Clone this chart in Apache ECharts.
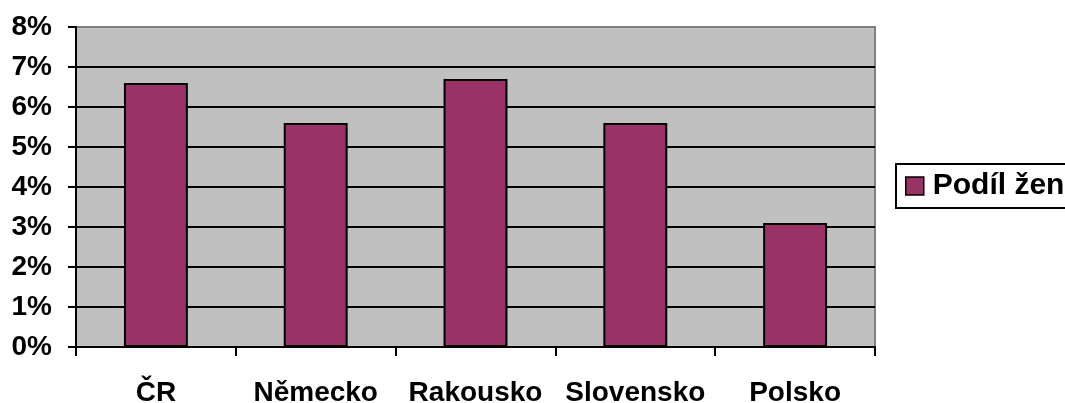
<!DOCTYPE html>
<html>
<head>
<meta charset="utf-8">
<title>Podíl žen</title>
<script src="https://cdn.jsdelivr.net/npm/echarts@6/dist/echarts.min.js"></script>
<style>
html, body { margin: 0; padding: 0; background: #fff; }
#barChart { width: 1065px; height: 403px; }
</style>
</head>
<body>
<div id="barChart"></div>
<script>
//země
var categories = ['ČR', 'Německo', 'Rakousko', 'Slovensko', 'Polsko'];
//podíl žen v %
var podilZen = [6.6, 5.6, 6.7, 5.6, 3.1];
var seriesName = 'Podíl žen';
var yMin = 0;
var yMax = 8;
var yStep = 1;

var fontName = '"Liberation Sans", Arial, sans-serif';

// mřížka - poslední čára (8%) je šedá jako okraj
var splitColors = [];
for (var i = yMin; i <= yMax; i += yStep) {
	splitColors.push(i == yMax ? '#808080' : '#000');
}

var myChart = echarts.init(document.getElementById('barChart'));
var option = {
	backgroundColor: '#fff',
	animation: false,
	textStyle: { fontFamily: fontName },
	grid: {
		left: 76,
		right: 190,
		top: 27,
		bottom: 56,
		outerBoundsMode: 'none',
		show: true,
		backgroundColor: '#c0c0c0',
		borderColor: '#808080',
		borderWidth: 2
	},
	legend: {
		data: [seriesName],
		left: 896,
		top: 164,
		orient: 'vertical',
		backgroundColor: '#fff',
		borderColor: '#000',
		borderWidth: 2,
		padding: [7, 14, 7, 9],
		itemWidth: 18,
		itemHeight: 18,
		itemGap: 0,
		icon: 'rect',
		itemStyle: { borderColor: '#000', borderWidth: 1.5 },
		textStyle: { fontSize: 30, fontWeight: 'bold', color: '#000', fontFamily: fontName, padding: [0, 0, 0, 4] }
	},
	xAxis: {
		type: 'category',
		data: categories,
		axisLine: { lineStyle: { color: '#000', width: 2 } },
		axisTick: { show: true, interval: 0, length: 9, lineStyle: { color: '#000', width: 2 } },
		axisLabel: { interval: 0, color: '#000', fontSize: 28, fontWeight: 'bold', margin: 32, fontFamily: fontName }
	},
	yAxis: {
		type: 'value',
		min: yMin,
		max: yMax,
		interval: yStep,
		axisLine: { show: true, lineStyle: { color: '#000', width: 2 } },
		axisTick: { show: true, length: 8, lineStyle: { color: '#000', width: 2 } },
		axisLabel: { color: '#000', fontSize: 28, fontWeight: 'bold', margin: 24, formatter: '{value}%', fontFamily: fontName },
		splitLine: { show: true, lineStyle: { color: splitColors, width: 2 } }
	},
	series: [{
		name: seriesName,
		type: 'bar',
		data: podilZen,
		barWidth: '40%',
		itemStyle: { color: '#993366', borderColor: '#000', borderWidth: 2 }
	}]
};
myChart.setOption(option);
</script>
</body>
</html>
